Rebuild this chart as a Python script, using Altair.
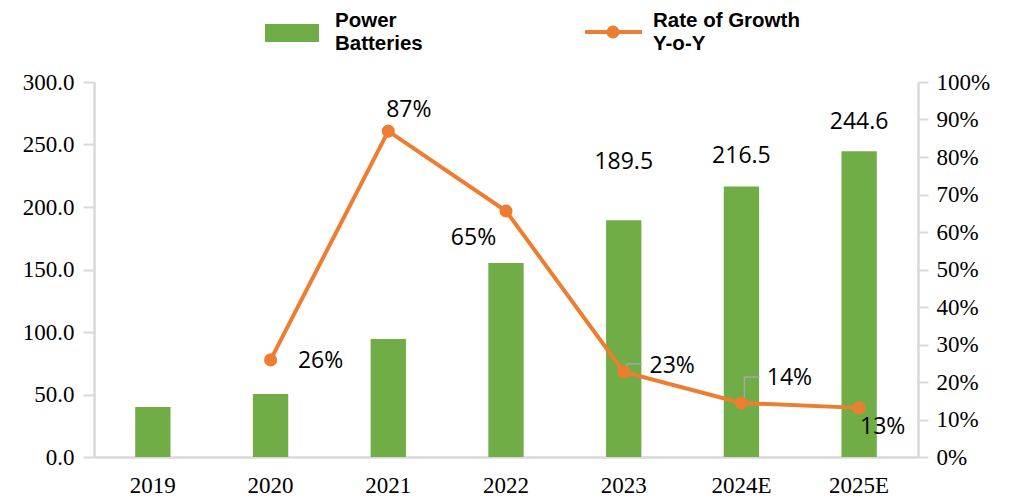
import altair as alt
import pandas as pd

# ---- data ----
years = ["2019", "2020", "2021", "2022", "2023", "2024E", "2025E"]
batteries = [40.0, 50.4, 94.4, 155.2, 189.5, 216.5, 244.6]

growth_years = ["2020", "2021", "2022", "2023", "2024E", "2025E"]
growth = [0.259, 0.869, 0.656, 0.227, 0.144, 0.131]
growth_labels = ["26%", "87%", "65%", "23%", "14%", "13%"]

bar_label_years = ["2023", "2024E", "2025E"]
bar_labels = ["189.5", "216.5", "244.6"]

left_ticks = [0, 50, 100, 150, 200, 250, 300]
right_ticks = [0, 0.1, 0.2, 0.3, 0.4, 0.5, 0.6, 0.7, 0.8, 0.9, 1.0]

legend_bar = "Power\nBatteries"
legend_line = "Rate of Growth\nY-o-Y"

# ---- tables ----
bar_df = pd.DataFrame({"year": years, "value": batteries})
line_df = pd.DataFrame({"year": growth_years, "pct": growth, "label": growth_labels})
bl_df = pd.DataFrame({
    "year": bar_label_years,
    "value": [batteries[years.index(y)] for y in bar_label_years],
    "label": bar_labels,
})
one = pd.DataFrame({"k": [0]})

GREEN = "#70AD47"
ORANGE = "#ED7D31"
GRAY = "#D9D9D9"
SERIF = "Liberation Serif"
SANS = "Open Sans"
LEG = "Liberation Sans"

xscale = alt.Scale(domain=years, paddingInner=0.7, paddingOuter=0.35)
yl = alt.Scale(domain=[0, 300])
yr = alt.Scale(domain=[0, 1])

x_axis = alt.Axis(title=None, labelAngle=0, ticks=False, labelFont=SERIF,
                  labelFontSize=23, labelColor="#000", labelPadding=17,
                  domainColor=GRAY, domainWidth=2.5, grid=False)
yl_axis = alt.Axis(
    orient="left", values=left_ticks, format=".1f", title=None,
    labelFont=SERIF, labelFontSize=23, labelColor="#000",
    tickColor=GRAY, tickSize=11, tickWidth=2, labelPadding=9,
    domainColor=GRAY, domainWidth=2.5, grid=False)
yr_axis = alt.Axis(
    orient="right", values=right_ticks, format=".0%", title=None,
    labelFont=SERIF, labelFontSize=23, labelColor="#000",
    tickColor=GRAY, tickSize=10, tickWidth=2, labelPadding=8,
    domainColor=GRAY, domainWidth=2.5, grid=False)

xenc = alt.X("year:N", scale=xscale, axis=x_axis)
yl_enc = alt.Y("value:Q", scale=yl, axis=yl_axis)
yr_enc = alt.Y("pct:Q", scale=yr, axis=yr_axis)

bars = alt.Chart(bar_df).mark_bar(color=GREEN).encode(x=xenc, y=yl_enc)

bar_text_offsets = {"2023": -58, "2024E": -30, "2025E": -29.5}
bar_texts = []
for yv, dy in bar_text_offsets.items():
    bar_texts.append(
        alt.Chart(bl_df).transform_filter(alt.datum.year == yv)
        .mark_text(font=SANS, fontSize=23, color="#000", baseline="middle", dy=dy)
        .encode(x=xenc, y=yl_enc, text="label:N")
    )

# legend (drawn by hand above the plot)
leg_rect = alt.Chart(one).mark_rect(color=GREEN).encode(
    x=alt.value(171), x2=alt.value(225), y=alt.value(-58), y2=alt.value(-40))
def leg_text(x, y, t):
    return alt.Chart(one).mark_text(font=LEG, fontWeight="bold", fontSize=20.5,
                                    align="left", baseline="alphabetic", color="#000").encode(
        x=alt.value(x), y=alt.value(y), text=alt.value(t))
leg_t1 = leg_text(241, -55, legend_bar.split("\n")[0])
leg_t2 = leg_text(241, -32, legend_bar.split("\n")[1])
leg_line = alt.Chart(one).mark_rule(color=ORANGE, strokeWidth=4).encode(
    x=alt.value(491), x2=alt.value(548), y=alt.value(-50))
leg_dot = alt.Chart(one).mark_point(color=ORANGE, filled=True, opacity=1, size=170,
                                    shape="circle").encode(
    x=alt.value(519), y=alt.value(-50))
leg_t3 = leg_text(559, -55, legend_line.split("\n")[0])
leg_t4 = leg_text(559, -32, legend_line.split("\n")[1])

left = alt.layer(bars, *bar_texts, leg_rect, leg_t1, leg_t2, leg_line, leg_dot, leg_t3, leg_t4)

line = alt.Chart(line_df).mark_line(color=ORANGE, strokeWidth=4).encode(x=xenc, y=yr_enc)
pts = alt.Chart(line_df).mark_point(color=ORANGE, filled=True, opacity=1, size=170,
                                    shape="circle").encode(x=xenc, y=yr_enc)

# leader lines for 23% and 14%
leaders = []
for yv, top in [("2023", -8), ("2024E", -26)]:
    leaders.append(
        alt.Chart(line_df).transform_filter(alt.datum.year == yv)
        .mark_rule(color="#A6A6A6", strokeWidth=1.5, xOffset=3, y2Offset=top)
        .encode(x=xenc, y=yr_enc, y2="pct:Q"))
    leaders.append(
        alt.Chart(line_df).transform_filter(alt.datum.year == yv)
        .mark_rule(color="#A6A6A6", strokeWidth=1.5, xOffset=3, x2Offset=18, yOffset=top, y2Offset=top)
        .encode(x=xenc, x2="year:N", y=yr_enc, y2="pct:Q"))

pct_offsets = {
    "2020": (50, 1),
    "2021": (20.5, -21),
    "2022": (-32.5, 26.5),
    "2023": (48.5, -5.5),
    "2024E": (48, -25.5),
    "2025E": (23.5, 19.5),
}
pct_texts = []
for yv, (dx, dy) in pct_offsets.items():
    pct_texts.append(
        alt.Chart(line_df).transform_filter(alt.datum.year == yv)
        .mark_text(font=SANS, fontSize=23, color="#000", baseline="middle", dx=dx, dy=dy)
        .encode(x=xenc, y=yr_enc, text="label:N")
    )

right = alt.layer(*leaders, line, pts, *pct_texts)

chart = (
    alt.layer(left, right)
    .resolve_scale(y="independent")
    .properties(width=824, height=375,
                autosize=alt.AutoSizeParams(type="none"),
                padding={"left": 86, "top": 74, "right": 80, "bottom": 40})
    .configure_view(stroke=None)
)

chart.save("out.html", embed_options={"renderer": "svg", "actions": False})
